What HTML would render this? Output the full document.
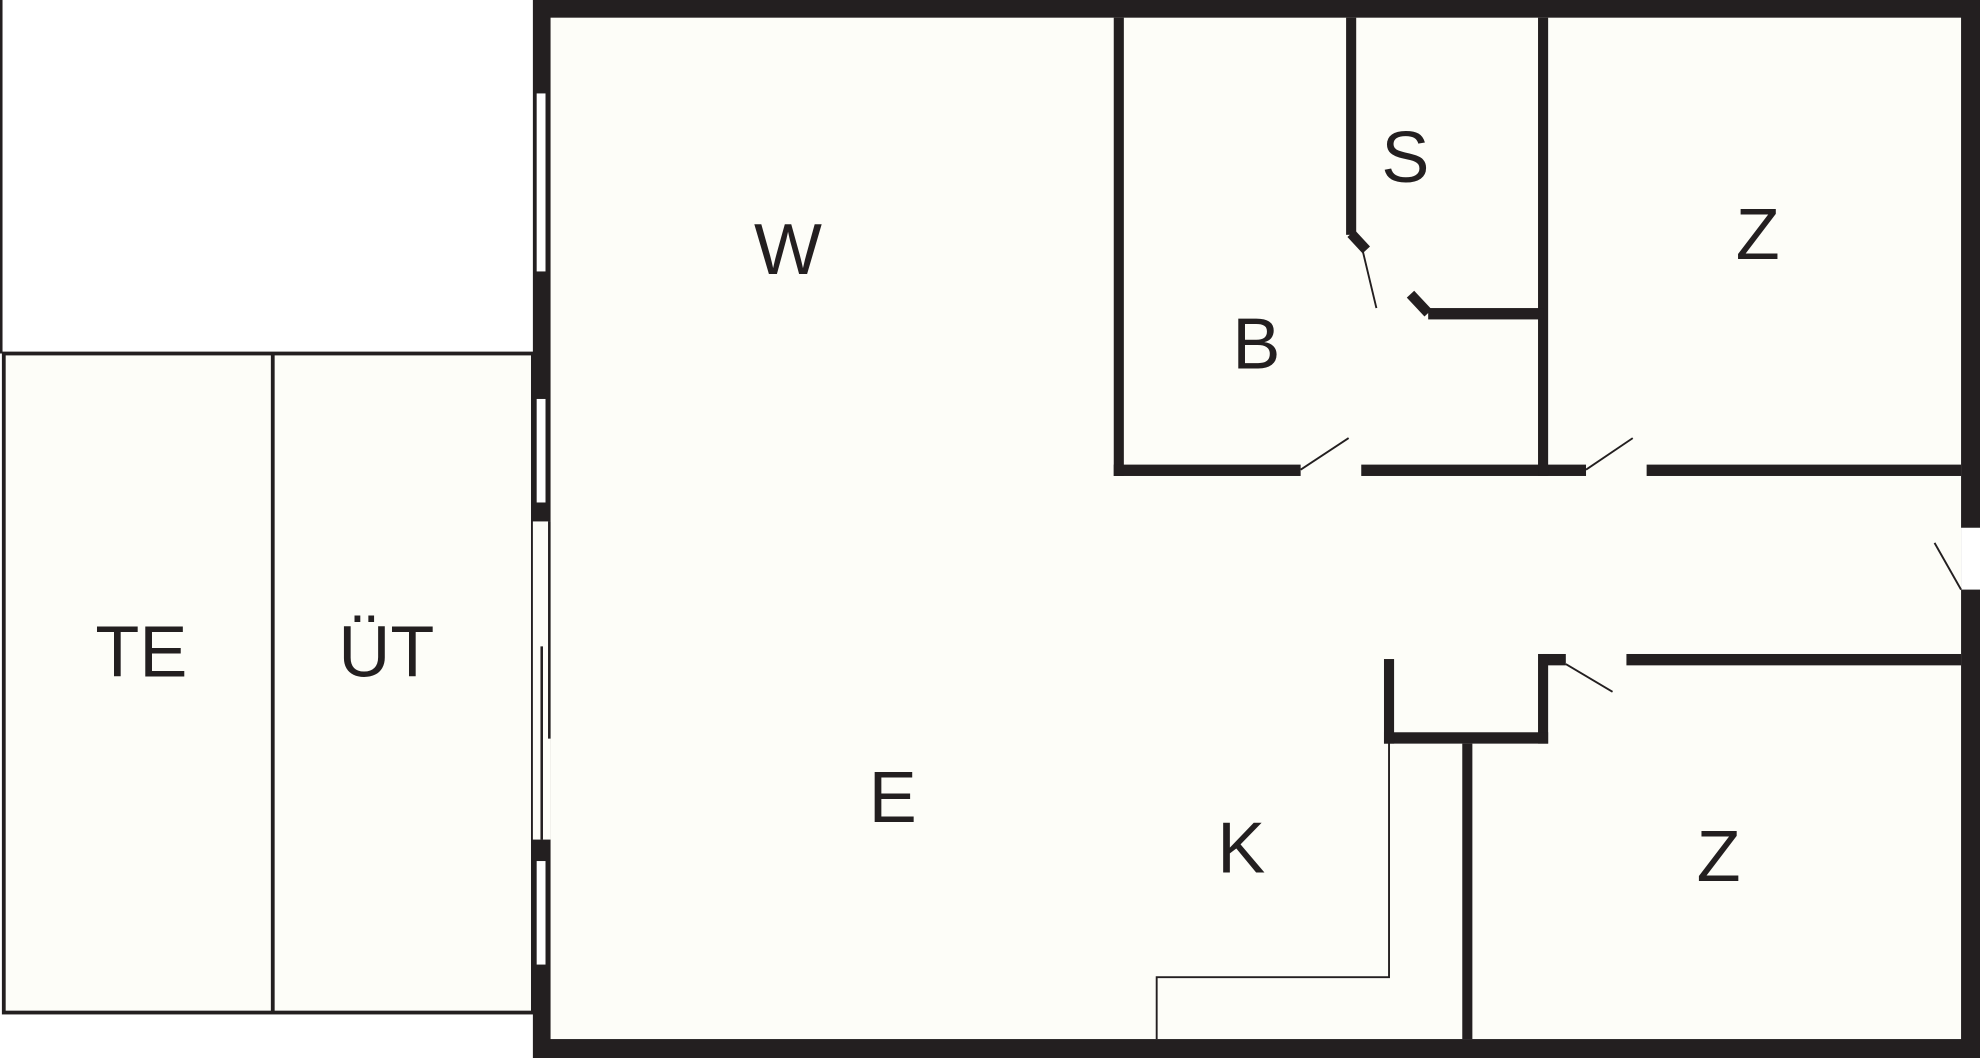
<!DOCTYPE html>
<html><head><style>html,body{margin:0;padding:0;background:#fff;}svg{display:block}</style></head>
<body>
<svg width="1980" height="1058" viewBox="0 0 1568 838" preserveAspectRatio="none" xmlns="http://www.w3.org/2000/svg">
<rect x="0" y="0" width="1568" height="838" fill="#fff"/>
<line x1="1" y1="0" x2="1" y2="280" stroke="#231f20" stroke-width="2"/>
<rect x="3" y="280" width="419" height="522" fill="#fdfdf8" stroke="#231f20" stroke-width="3"/>
<line x1="216" y1="280" x2="216" y2="802" stroke="#231f20" stroke-width="3"/>
<rect x="422" y="0" width="1146" height="838" fill="#231f20"/>
<rect x="436" y="14" width="1117" height="809" fill="#fdfdf8"/>
<rect x="422" y="413" width="14" height="252" fill="#fdfdf8"/>
<line x1="435" y1="413" x2="435" y2="585" stroke="#231f20" stroke-width="2"/>
<line x1="429" y1="512" x2="429" y2="665" stroke="#231f20" stroke-width="2"/>
<rect x="425" y="74" width="7" height="141" fill="#fff"/>
<rect x="425" y="316" width="7" height="82" fill="#fff"/>
<rect x="425" y="682" width="7" height="82" fill="#fff"/>
<rect x="1553" y="418" width="15" height="49" fill="#fff"/>
<line x1="1532" y1="430" x2="1553" y2="467" stroke="#231f20" stroke-width="1.5"/>
<g fill="#231f20">
<rect x="882" y="14" width="8" height="363"/>
<rect x="882" y="368" width="148" height="9"/>
<rect x="1078" y="368" width="178" height="9"/>
<rect x="1304" y="368" width="249" height="9"/>
<rect x="1218" y="14" width="8" height="363"/>
<rect x="1066" y="14" width="8" height="172"/>
<rect x="1131" y="244" width="91" height="9"/>
<rect x="1222" y="518" width="18" height="9"/>
<rect x="1288" y="518" width="265" height="9"/>
<rect x="1218" y="518" width="8" height="71"/>
<rect x="1096" y="580" width="130" height="9"/>
<rect x="1096" y="522" width="8" height="67"/>
<rect x="1158" y="589" width="8" height="234"/>
</g>
<g stroke="#231f20" fill="none">
<polyline points="1070,185 1082,198" stroke-width="8"/>
<polyline points="1117,233 1131,248" stroke-width="8"/>
<line x1="1079" y1="198" x2="1090" y2="244" stroke-width="1.5"/>
<line x1="1030" y1="372" x2="1068" y2="347" stroke-width="1.5"/>
<line x1="1256" y1="372" x2="1293" y2="347" stroke-width="1.5"/>
<line x1="1240" y1="526" x2="1277" y2="548" stroke-width="1.5"/>
<polyline points="1100,588 1100,774 916,774 916,823" stroke-width="1.5"/>
</g>
<g font-family="Liberation Sans, sans-serif" font-size="57" fill="#231f20" text-anchor="middle" dominant-baseline="central">
<text x="624" y="198">W</text>
<text x="1113" y="125">S</text>
<text x="1392" y="186">Z</text>
<text x="995" y="273">B</text>
<text x="112" y="517">TE</text>
<text x="306" y="517">ÜT</text>
<text x="707" y="632">E</text>
<text x="983" y="672">K</text>
<text x="1361" y="679">Z</text>
</g>
</svg>
</body></html>
